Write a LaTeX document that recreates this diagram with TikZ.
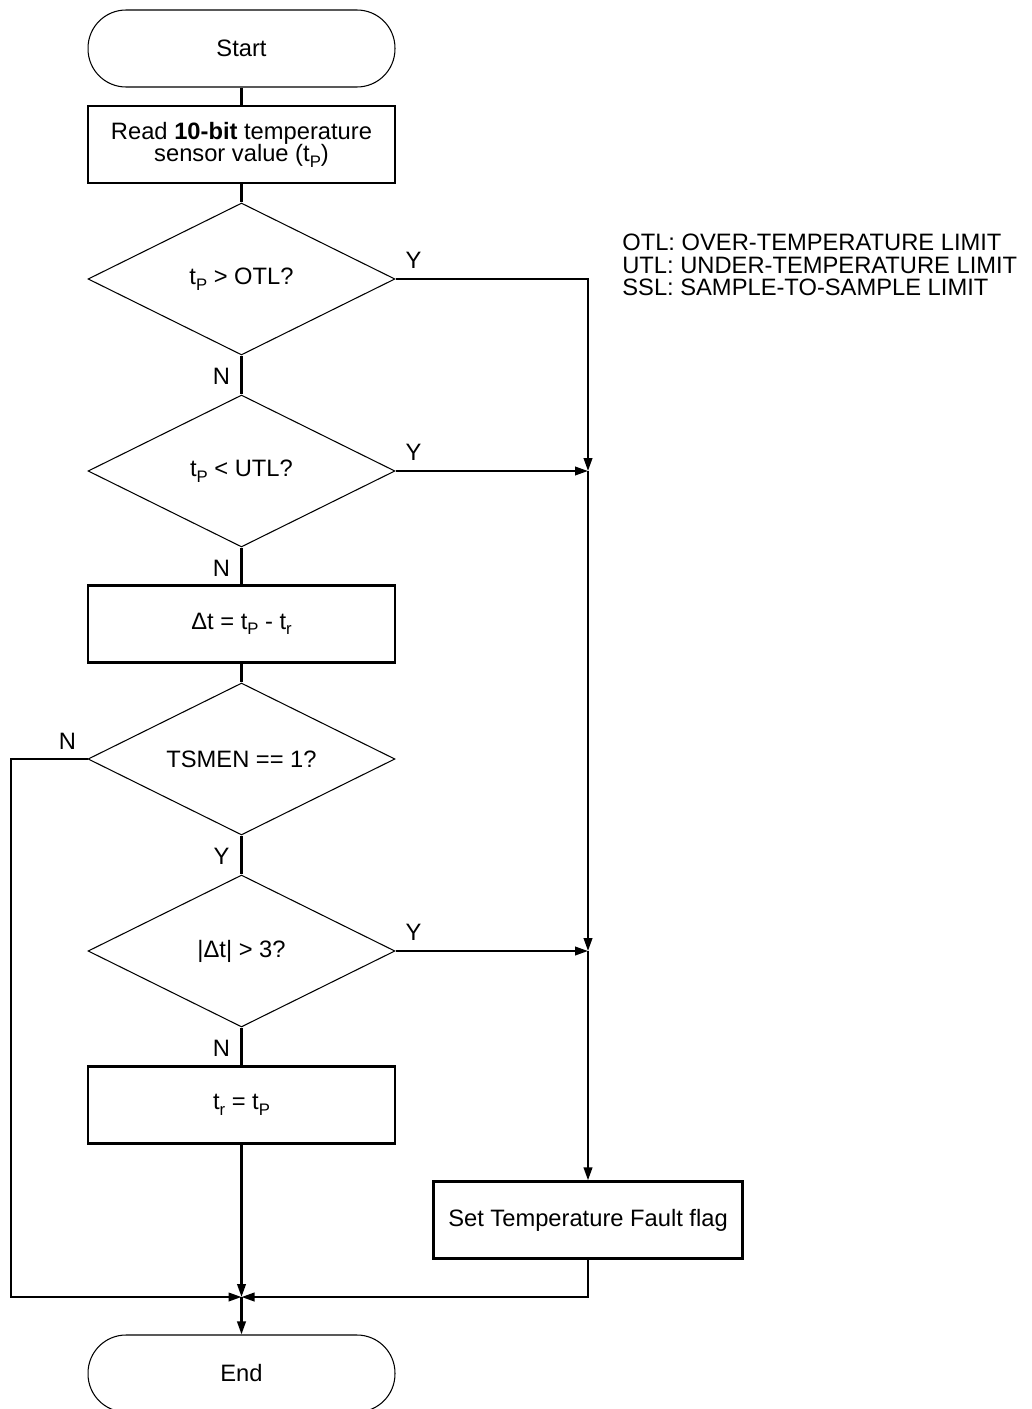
\documentclass[tikz,border=0pt]{standalone}
\usepackage{fontspec}
\setmainfont{Liberation Sans}
\usetikzlibrary{positioning,arrows.meta,shapes.geometric}
\newcommand{\tsub}[1]{\raisebox{-3.2pt}{\fontsize{9.5}{9.5}\selectfont #1}}
\tikzset{
  flowarrow/.style={-{Triangle[length=2.6mm, width=1.7mm]}, line width=1.3pt},
  flowline/.style={line width=1.3pt},
  terminal/.style={draw, line width=0.6pt, rounded corners=7.6mm, minimum width=6.14cm, minimum height=1.54cm, align=center},
  procbox/.style={draw, line width=1.3pt, minimum width=6.14cm, minimum height=1.54cm, align=center},
  decision/.style={draw, diamond, aspect=2, line width=0.6pt, minimum width=6.14cm, minimum height=3.04cm, inner sep=0pt, align=center},
  yn/.style={inner sep=0pt}
}
\begin{document}
\begin{tikzpicture}[x=0.02cm, y=-0.02cm, >=Latex, every node/.style={font=\fontsize{13.5}{12.8}\selectfont}]
  \useasboundingbox (0,0) rectangle (1031,1409);
  % main column
  \node[terminal] (start) at (241.5,48.5) {Start};
  \node[procbox] (read) at (241.5,144.5) {Read \textbf{10-bit} temperature\\sensor value (t\tsub{P})};
  \node[decision] (otl) at (241.5,279) {t\tsub{P} > OTL?};
  \node[decision] (utl) at (241.5,471) {t\tsub{P} < UTL?};
  \node[procbox] (delta) at (241.5,624) {Δt = t\tsub{P} - t\tsub{r}};
  \node[decision] (tsmen) at (241.5,759) {TSMEN == 1?};
  \node[decision] (ssl) at (241.5,951) {|Δt| > 3?};
  \node[procbox] (update) at (241.5,1105) {t\tsub{r} = t\tsub{P}};
  \node[procbox, minimum width=6.18cm] (fault) at (588,1220) {Set Temperature Fault flag};
  \node[terminal] (end) at (241.5,1373.5) {End};
  % legend
  \node[anchor=west, align=left, inner sep=0pt] (legend) at (622,265)
    {OTL: OVER-TEMPERATURE LIMIT\\UTL: UNDER-TEMPERATURE LIMIT\\SSL: SAMPLE-TO-SAMPLE LIMIT};
  % junctions
  \coordinate (j1) at (588,471);
  \coordinate (j2) at (588,951);
  \coordinate (j3) at (241.5,1297);
  \coordinate (lft) at (11,759);
  % connectors
  \draw[flowline] (start) -- (read);
  \draw[flowline] (read) -- (otl);
  \draw[flowline] (otl) -- (utl);
  \draw[flowline] (utl) -- (delta);
  \draw[flowline] (delta) -- (tsmen);
  \draw[flowline] (tsmen) -- (ssl);
  \draw[flowline] (ssl) -- (update);
  \draw[flowarrow] (update) -- (j3);
  \draw[flowarrow] (otl.east) -| (j1);
  \draw[flowarrow] (utl.east) -- (j1);
  \draw[flowarrow] (j1) -- (j2);
  \draw[flowarrow] (ssl.east) -- (j2);
  \draw[flowarrow] (j2) -- (fault);
  \draw[flowarrow] (tsmen.west) -- (lft) |- (j3);
  \draw[flowarrow] (fault) |- (j3);
  \draw[flowarrow] (j3) -- (end);
  % branch labels
  \path (otl.east) ++(18,-19) node[yn] {Y};
  \path (utl.east) ++(18,-19) node[yn] {Y};
  \path (ssl.east) ++(18,-19) node[yn] {Y};
  \path (otl.south) ++(-20,21) node[yn] {N};
  \path (utl.south) ++(-20,21) node[yn] {N};
  \path (tsmen.south) ++(-20,21) node[yn] {Y};
  \path (ssl.south) ++(-20,21) node[yn] {N};
  \path (tsmen.west) ++(-20,-18) node[yn] {N};
\end{tikzpicture}
\end{document}
